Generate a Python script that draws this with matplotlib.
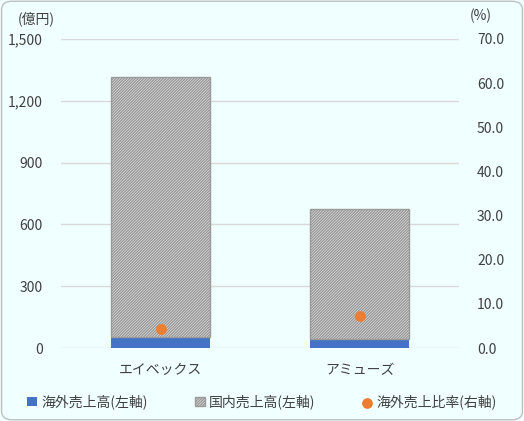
import matplotlib.pyplot as plt
from matplotlib.patches import FancyBboxPatch
import numpy as np

plt.rcParams['font.family'] = ['Noto Sans CJK JP', 'DejaVu Sans']
plt.rcParams['hatch.linewidth'] = 1.0
plt.rcParams['hatch.color'] = "#999999"

companies = ["エイベックス", "アミューズ"]
overseas_sales = [55, 44]          # 億円
domestic_sales = [1260, 631]       # 億円
overseas_ratio = [4.4, 7.2]        # %

left_ticks = [0, 300, 600, 900, 1200, 1500]
right_ticks = [0, 10, 20, 30, 40, 50, 60, 70]

bg = "#F0FFFF"
blue = "#4472C4"
orange = "#ED7D31"
txt = "#404040"
fs = 10

fig = plt.figure(figsize=(5.24, 4.21), dpi=100)
fig.patch.set_facecolor(bg)
fig.patches.append(FancyBboxPatch((0.003, 0.003), 0.994, 0.994, boxstyle="round,pad=0,rounding_size=0.02",
                                  transform=fig.transFigure, facecolor="none", edgecolor="#BFBFBF", lw=1))

ax = fig.add_axes([61 / 524, 1 - 348 / 421, 398 / 524, 309 / 421])
ax.set_facecolor(bg)
x = np.arange(len(companies))
ax.bar(x, overseas_sales, width=0.5, color=blue, label="海外売上高(左軸)", zorder=3)
ax.bar(x, domestic_sales, width=0.5, bottom=overseas_sales, facecolor="#E6E6E6", edgecolor="#9A9A9A",
       hatch="/" * 12, lw=1, label="国内売上高(左軸)", zorder=3)
ax.set_xlim(-0.5, 1.5)
ax.set_ylim(0, 1500)
ax.set_yticks(left_ticks)
ax.set_yticklabels([f"{v:,}" for v in left_ticks])
ax.set_xticks(x)
ax.set_xticklabels(companies)
ax.grid(axis="y", color="#D9D9D9", lw=1, zorder=0)
for s in ax.spines.values():
    s.set_visible(False)
ax.tick_params(length=0, labelsize=fs, colors=txt)
ax.tick_params(axis="y", pad=13)
ax.tick_params(axis="x", pad=11)

ax2 = ax.twinx()
ax2.scatter(x, overseas_ratio, s=45, color=orange, zorder=5, label="海外売上比率(右軸)")
ax2.set_ylim(0, 70)
ax2.set_yticks(right_ticks)
ax2.set_yticklabels([f"{v:.1f}" for v in right_ticks])
for s in ax2.spines.values():
    s.set_visible(False)
ax2.tick_params(length=0, labelsize=fs, colors=txt, pad=13)

fig.text(18 / 524, 1 - 19 / 421, "(億円)", fontsize=fs, color=txt, va="center")
fig.text(470 / 524, 1 - 16 / 421, "(%)", fontsize=fs, color=txt, va="center")

h1, l1 = ax.get_legend_handles_labels()
h2, l2 = ax2.get_legend_handles_labels()
fig.legend(h1 + h2, l1 + l2, loc="center", bbox_to_anchor=(0.5, 1 - 402 / 421), ncol=3, frameon=False,
           fontsize=fs, handlelength=0.7, handleheight=0.7, handletextpad=0.3, columnspacing=3.4,
           labelcolor=txt)

fig.savefig("out.png", dpi=100, facecolor=bg)
